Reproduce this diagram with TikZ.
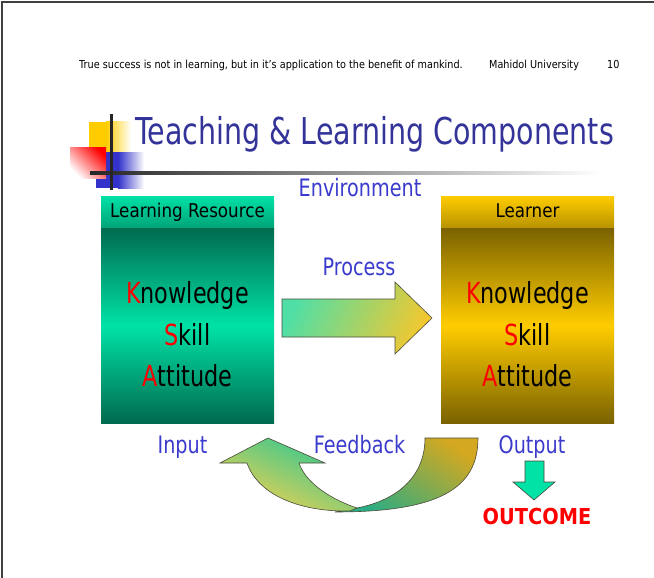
\documentclass[tikz,border=0pt]{standalone}
\usepackage{fontspec}
\setmainfont{DejaVu Sans}[FakeStretch=0.88]
\newfontfamily\bigfont{DejaVu Sans}[FakeStretch=0.77]
\newfontfamily\lblfont{DejaVu Sans}[FakeStretch=0.80]
\usetikzlibrary{positioning}

\definecolor{titleblue}{HTML}{333399}
\definecolor{txtblue}{HTML}{3A3ACC}
\definecolor{logoblue}{HTML}{3333CC}
\definecolor{resbright}{HTML}{00E2A6}
\definecolor{resdark}{HTML}{006A4E}
\definecolor{lrnbright}{HTML}{FFCC00}
\definecolor{lrndark}{HTML}{7A6200}
\definecolor{arrowedge}{HTML}{4A4A3A}
\definecolor{flowgreen}{HTML}{4FDFA6}
\definecolor{flowyellow}{HTML}{F2C830}
\definecolor{fbgold}{HTML}{D4A820}
\definecolor{fbteal}{HTML}{12B886}
\newcommand{\rl}[1]{\textcolor{red}{#1}}

\tikzset{
  boxhead/.style={minimum width=173pt,minimum height=32pt,inner sep=0pt},
  boxbody/.style={minimum width=173pt,minimum height=195pt,inner sep=0pt},
  boxtitle/.style={anchor=base,inner sep=0pt,font=\fontsize{19}{19}\selectfont},
  ksa/.style={anchor=base,inner sep=0pt,font=\bigfont\fontsize{29}{29}\selectfont},
  bluelabel/.style={anchor=base,inner sep=0pt,text=txtblue,font=\lblfont\fontsize{24}{24}\selectfont},
  blockarrow/.style={draw=arrowedge,line width=0.6pt,line join=miter}
}

\begin{document}
\begin{tikzpicture}[x=1pt,y=-1pt]
\useasboundingbox (0,0) rectangle (654,578);
\draw[line width=2.5pt,black!75] (2,578) -- (2,2) -- (654,2);

% header line
\node[anchor=base west,inner sep=0pt,font=\fontsize{11}{11}\selectfont] (motto) at (79,69) {True success is not in learning, but in it’s application to the benefit of mankind.};
\node[anchor=base west,inner sep=0pt,font=\fontsize{11}{11}\selectfont] (univ) at (489,69) {Mahidol University};
\node[anchor=base west,inner sep=0pt,font=\fontsize{11}{11}\selectfont] (pageno) at (607,69) {10};

% logo squares
\fill[lrnbright] (89,122) rectangle (106,152);
\shade[left color=lrnbright,right color=white] (106,122) rectangle (131,152);
\fill[logoblue] (96,152) rectangle (118,188);
\shade[left color=logoblue,right color=white] (118,152) rectangle (144,188);
\shade[top color=red,bottom color=white,shading angle=-45] (70,147) rectangle (106,178);
\shade[left color=black!85,middle color=black!60,right color=white] (90,171.5) rectangle (600,174.5);
\draw[line width=3pt,black!85] (111,114) -- (111,190);

\node[anchor=base west,inner sep=0pt,text=titleblue,font=\bigfont\fontsize{37}{37}\selectfont] (title) at (135,145) {Teaching \& Learning Components};
\node[bluelabel] (env) at (360,196) {Environment};

% learning resource
\node[boxhead,top color=resbright,bottom color=resbright!72!black] (reshead) at (187.5,212) {};
\node[boxbody,top color=resdark,bottom color=resdark,middle color=resbright] (resbody) at (187.5,325.5) {};
\node[boxtitle] (restitle) at (187.5,217) {Learning Resource};
\node[ksa] (resk) at (187.5,303) {\rl{K}nowledge};
\node[ksa] (ress) at (187.5,345) {\rl{S}kill};
\node[ksa] (resa) at (187.5,386) {\rl{A}ttitude};

% learner
\node[boxhead,top color=lrnbright,bottom color=lrnbright!72!black] (lrnhead) at (527.5,212) {};
\node[boxbody,top color=lrndark,bottom color=lrndark,middle color=lrnbright] (lrnbody) at (527.5,325.5) {};
\node[boxtitle] (lrntitle) at (527.5,217) {Learner};
\node[ksa] (lrnk) at (527.5,303) {\rl{K}nowledge};
\node[ksa] (lrns) at (527.5,345) {\rl{S}kill};
\node[ksa] (lrna) at (527.5,386) {\rl{A}ttitude};

% process
\node[bluelabel] (process) at (359,275) {Process};
\draw[blockarrow,top color=flowgreen,bottom color=flowyellow,shading angle=65]
  (282,299) -- (395,299) -- (395,282) -- (432,318) -- (395,354) -- (395,337) -- (282,337) -- cycle;

% feedback loop
\draw[blockarrow,top color=fbgold,middle color=fbteal,bottom color=fbteal!80!gray,shading angle=-35]
  (425,438) -- (478,438) .. controls (478,488) and (440,512) .. (335,512)
  -- (357,508) .. controls (398,500) and (425,476) .. (425,438) -- cycle;
\draw[blockarrow,top color=fbteal!60!flowgreen,bottom color=flowyellow!85!white,shading angle=-25]
  (357,508) .. controls (333,500) and (306,484) .. (299,463) -- (325,463) -- (268,438)
  -- (220,463) -- (247,463) .. controls (258,495) and (300,512) .. (350,511) -- cycle;

\node[bluelabel] (input) at (182.5,453) {Input};
\node[bluelabel] (feedback) at (359.5,453) {Feedback};
\node[bluelabel] (output) at (532,453) {Output};

% outcome
\draw[blockarrow,fill=resbright] (525,461) -- (544,461) -- (544,482) -- (555,482) -- (534,500) -- (513,482) -- (525,482) -- cycle;
\node[anchor=base,inner sep=0pt,text=red,font=\bfseries\fontsize{22}{22}\selectfont] (outcome) at (537,524) {OUTCOME};
\end{tikzpicture}
\end{document}
